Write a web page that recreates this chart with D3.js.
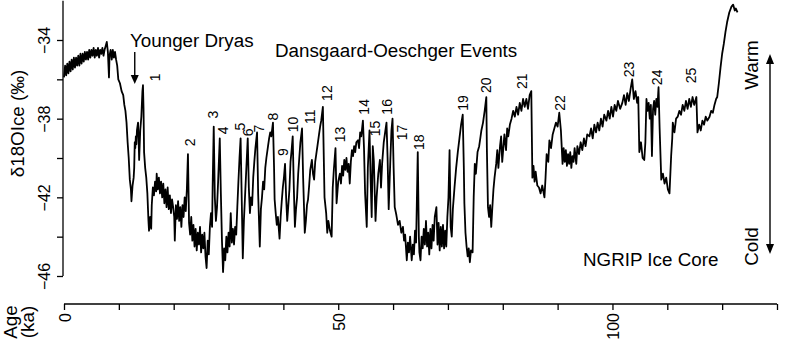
<!DOCTYPE html>
<html lang="en">
<head>
<meta charset="UTF-8">
<title>NGRIP ice core</title>
<style>
  body { margin: 0; background: #fff; }
  svg text { font-family: "Liberation Sans", Arial, sans-serif; fill: #000; }
</style>
<script src="https://d3js.org/d3.v7.min.js"></script>
</head>
<body>
<svg id="chart" width="785" height="347"></svg>
<script>
// age (ka) and d18O (permil)
const ageKa = [
  0.0,0.2,0.4,0.6,0.8,1.0,1.2,1.4,1.6,1.8,2.0,2.2,2.4,2.6,2.8,3.0,3.2,3.4,3.6,3.8,
  4.0,4.2,4.4,4.6,4.8,5.0,5.2,5.4,5.6,5.8,6.0,6.2,6.4,6.6,6.8,7.0,7.2,7.4,7.6,7.8,
  8.0,8.2,8.3,8.5,8.7,8.9,9.1,9.3,9.5,9.7,9.9,10.2,10.5,10.8,11.0,11.2,11.4,11.6,11.8,12.0,
  12.2,12.3,12.5,12.7,12.8,12.9,13.0,13.1,13.2,13.3,13.5,13.6,13.7,13.9,14.1,14.3,14.4,14.5,14.6,14.8,
  15.0,15.2,15.4,15.5,15.7,15.9,16.0,16.2,16.4,16.6,16.8,16.9,17.1,17.3,17.5,17.7,17.9,18.1,18.3,18.5,
  18.7,18.9,19.1,19.3,19.5,19.7,19.9,20.1,20.2,20.4,20.6,20.8,21.0,21.2,21.4,21.6,21.8,22.0,22.2,22.4,
  22.6,22.8,23.0,23.2,23.4,23.6,23.8,24.0,24.2,24.4,24.6,24.8,25.0,25.2,25.4,25.6,25.8,26.0,26.2,26.4,
  26.6,26.8,27.0,27.1,27.3,27.5,27.7,27.9,28.1,28.4,28.6,28.8,29.0,29.2,29.4,29.6,29.8,30.0,30.2,30.4,
  30.6,30.8,31.0,31.2,31.4,31.6,31.8,32.0,32.2,32.4,32.6,32.8,33.0,33.2,33.5,33.7,33.9,34.1,34.3,34.5,
  34.7,34.9,35.2,35.4,35.7,35.9,36.1,36.3,36.5,36.7,36.9,37.2,37.4,37.6,37.8,38.1,38.3,38.4,38.6,38.8,
  39.0,39.3,39.5,39.7,39.9,40.1,40.3,40.5,40.7,40.9,41.1,41.3,41.5,41.7,41.9,42.1,42.3,42.5,42.7,42.9,
  43.1,43.4,43.6,43.9,44.1,44.3,44.5,44.7,44.9,45.2,45.4,45.6,45.8,46.0,46.3,46.5,46.7,46.9,47.2,47.4,
  47.5,47.8,48.0,48.2,48.5,48.8,49.0,49.2,49.5,49.7,50.0,50.3,50.5,50.7,50.9,51.1,51.3,51.5,51.7,51.9,
  52.1,52.3,52.5,52.7,52.9,53.1,53.3,53.6,53.8,54.0,54.2,54.5,54.7,54.9,55.2,55.4,55.7,55.9,56.1,56.3,
  56.5,56.8,57.0,57.3,57.6,57.8,58.0,58.3,58.6,58.8,59.0,59.2,59.5,59.7,59.9,60.1,60.3,60.6,60.9,61.2,
  61.5,61.8,62.0,62.2,62.5,62.7,62.9,63.1,63.4,63.6,63.8,64.0,64.2,64.5,64.7,64.8,65.0,65.2,65.4,65.6,
  65.8,66.0,66.2,66.4,66.6,66.8,67.0,67.2,67.4,67.6,67.9,68.1,68.3,68.5,68.7,68.9,69.1,69.3,69.5,69.7,
  69.9,70.1,70.3,70.5,70.7,70.9,71.2,71.5,71.8,72.1,72.4,72.7,72.9,73.0,73.2,73.4,73.6,73.8,74.0,74.2,
  74.5,74.7,74.9,75.1,75.4,75.7,75.9,76.1,76.4,76.7,77.0,77.1,77.3,77.5,77.7,77.9,78.1,78.3,78.5,78.8,
  79.0,79.2,79.5,79.7,79.9,80.1,80.3,80.6,80.8,81.0,81.3,81.6,81.9,82.2,82.5,82.8,83.1,83.4,83.7,84.0,
  84.3,84.6,84.9,85.2,85.4,85.6,85.8,86.0,86.3,86.6,86.9,87.2,87.6,87.8,88.0,88.3,88.5,88.8,89.1,89.4,
  89.7,90.0,90.3,90.6,90.9,91.1,91.3,91.5,91.7,91.9,92.1,92.3,92.5,92.7,92.9,93.1,93.4,93.6,93.9,94.2,
  94.5,94.8,95.1,95.4,95.8,96.1,96.4,96.7,97.0,97.3,97.6,97.9,98.2,98.5,98.9,99.2,99.5,99.8,100.1,100.4,
  100.7,101.0,101.4,101.8,102.1,102.4,102.7,103.0,103.3,103.6,103.9,104.2,104.5,104.7,104.9,105.2,105.5,105.8,106.0,106.2,
  106.4,106.6,106.8,107.0,107.2,107.4,107.6,107.8,108.0,108.2,108.4,108.6,108.9,109.2,109.5,109.8,110.1,110.4,110.7,110.9,
  111.0,111.3,111.6,111.9,112.2,112.5,112.8,113.1,113.4,113.7,114.0,114.3,114.6,114.9,115.3,115.5,115.8,116.1,116.4,116.7,
  117.0,117.3,117.7,118.0,118.3,118.6,118.9,119.1,119.4,119.7,120.0,120.3,120.6,120.9,121.3,121.7,122.0,122.3,122.5,122.8
];
const d18O = [
  -35.9,-35.3,-35.8,-35.2,-35.7,-35.1,-35.6,-35.0,-35.5,-34.9,-35.4,-34.9,-35.3,-34.8,-35.3,-34.7,-35.2,-34.7,-35.1,-34.6,
  -35.0,-34.6,-35.0,-34.5,-34.9,-34.5,-34.8,-34.4,-34.9,-34.5,-34.8,-34.4,-34.9,-34.5,-34.7,-34.4,-34.8,-34.5,-34.3,-34.1,
  -34.6,-35.9,-34.8,-34.5,-35.0,-34.5,-34.9,-34.6,-35.0,-35.3,-36.0,-36.2,-36.6,-36.8,-37.3,-37.6,-38.2,-39.2,-40.0,-41.1,
  -41.6,-42.2,-41.4,-41.0,-40.5,-39.2,-39.5,-38.9,-39.3,-38.6,-38.2,-39.0,-40.1,-38.6,-37.9,-36.6,-36.3,-37.5,-39.7,-40.5,
  -41.0,-41.8,-43.2,-43.7,-43.0,-43.6,-42.4,-41.5,-41.9,-41.2,-41.7,-40.8,-41.6,-41.0,-41.8,-41.2,-42.0,-41.3,-42.3,-41.6,
  -42.5,-41.5,-42.6,-41.9,-42.8,-42.1,-42.5,-43.0,-44.2,-42.4,-43.1,-42.2,-43.2,-42.5,-43.5,-42.4,-43.0,-42.0,-42.7,-41.6,
  -39.8,-43.3,-43.9,-43.0,-44.2,-43.4,-44.5,-43.6,-44.7,-43.8,-44.4,-43.5,-44.8,-43.9,-44.6,-43.8,-45.0,-45.6,-44.2,-44.9,
  -43.5,-42.8,-43.5,-41.5,-38.4,-42.0,-43.2,-42.5,-41.2,-39.0,-41.8,-44.2,-45.8,-44.6,-45.2,-44.0,-44.8,-43.8,-44.5,-42.8,
  -44.3,-43.6,-44.4,-43.5,-43.9,-42.5,-41.2,-40.0,-39.0,-42.0,-45.1,-43.2,-42.0,-40.8,-39.0,-41.5,-42.8,-42.0,-42.4,-41.0,
  -40.2,-39.5,-38.7,-41.8,-44.5,-42.6,-42.0,-41.2,-41.6,-40.5,-40.0,-39.4,-39.0,-38.7,-38.9,-38.2,-40.5,-42.1,-42.8,-43.4,
  -43.0,-44.1,-43.0,-42.2,-41.5,-41.0,-40.3,-42.0,-43.2,-42.4,-41.6,-40.2,-39.6,-38.9,-41.5,-43.5,-42.6,-42.0,-40.8,-40.0,
  -39.2,-38.5,-41.0,-43.8,-43.2,-42.4,-42.1,-41.4,-40.6,-40.1,-40.8,-41.1,-40.2,-39.8,-39.2,-38.8,-38.4,-38.1,-37.4,-40.5,
  -42.0,-42.8,-43.8,-43.2,-43.7,-44.0,-41.5,-40.6,-39.5,-42.3,-41.2,-40.8,-41.3,-40.4,-40.9,-40.1,-40.6,-40.0,-40.7,-40.3,
  -41.3,-40.2,-39.6,-39.9,-39.4,-39.7,-39.2,-39.1,-39.5,-38.7,-38.9,-38.1,-39.5,-41.8,-43.5,-40.5,-38.6,-41.0,-43.0,-39.4,
  -40.2,-43.2,-42.0,-40.8,-40.1,-41.5,-40.3,-39.2,-38.6,-38.2,-40.0,-42.6,-40.1,-38.6,-38.0,-40.5,-42.5,-42.9,-43.4,-43.2,
  -43.8,-43.5,-44.2,-43.9,-45.2,-44.3,-44.8,-44.0,-45.2,-44.4,-44.9,-43.7,-44.3,-39.7,-44.0,-44.8,-45.2,-44.0,-44.6,-43.6,
  -44.4,-43.2,-44.5,-43.8,-44.9,-43.6,-44.6,-43.4,-44.2,-43.0,-42.5,-44.4,-43.3,-44.7,-43.5,-44.5,-43.4,-44.6,-43.7,-44.5,
  -43.0,-42.0,-39.6,-43.5,-44.0,-42.6,-41.5,-40.5,-39.7,-39.0,-38.3,-37.8,-40.5,-42.3,-43.8,-44.5,-45.0,-44.6,-45.3,-44.7,
  -44.8,-42.0,-40.3,-40.8,-39.7,-39.4,-39.0,-38.6,-38.2,-37.6,-36.9,-39.5,-42.5,-43.0,-42.4,-43.5,-42.5,-41.6,-41.0,-40.3,
  -39.6,-40.5,-39.4,-38.9,-40.2,-39.5,-38.8,-39.6,-38.5,-38.9,-38.3,-38.0,-37.6,-37.9,-37.4,-37.8,-37.2,-37.6,-37.0,-37.4,
  -37.0,-37.5,-36.8,-36.6,-41.0,-40.4,-41.2,-40.7,-41.4,-41.5,-41.8,-41.4,-42.0,-41.0,-39.8,-40.2,-39.1,-39.5,-38.8,-38.5,
  -38.2,-38.4,-37.7,-38.6,-40.3,-39.5,-40.2,-39.6,-40.4,-39.8,-40.3,-39.7,-40.5,-39.9,-40.2,-39.5,-40.3,-39.4,-39.8,-39.2,
  -39.6,-39.0,-39.4,-38.8,-38.9,-38.5,-39.0,-38.3,-38.7,-38.2,-38.6,-38.0,-38.4,-37.8,-38.1,-37.6,-38.0,-37.4,-37.9,-37.3,
  -37.6,-37.1,-37.5,-37.2,-36.8,-37.3,-36.7,-37.1,-36.5,-36.0,-37.0,-36.6,-37.2,-36.9,-39.7,-39.2,-40.0,-40.1,-39.2,-37.0,
  -37.6,-37.2,-38.0,-37.3,-39.9,-37.5,-37.1,-37.8,-37.0,-37.4,-36.4,-38.5,-41.1,-40.8,-41.3,-41.0,-41.6,-41.8,-39.9,-39.0,
  -38.2,-38.7,-38.0,-37.9,-37.6,-37.8,-37.3,-37.6,-37.1,-37.5,-37.0,-37.4,-36.9,-37.3,-36.9,-38.7,-38.3,-38.6,-38.1,-38.3,
  -37.9,-38.1,-37.9,-37.6,-37.7,-37.3,-37.0,-36.9,-36.2,-35.4,-34.7,-34.2,-33.6,-33.1,-32.6,-32.3,-32.2,-32.5,-32.4,-32.6
];

// Dansgaard-Oeschger event numbers and where their labels sit (age, permil)
const eventNum = ["1","2","3","4","5","6","7","8","9","10","11","12","13",
  "14","15","16","17","18","19","20","21","22","23","24","25"];
const eventAge = [16.6,23.0,27.2,29.0,32.1,33.6,35.6,38.1,39.9,41.8,44.9,48.0,50.3,
  54.7,56.7,58.9,61.6,64.7,72.7,76.9,83.5,90.4,103.0,108.1,114.3];
const eventVal = [-35.9,-39.2,-37.8,-38.6,-38.4,-38.7,-38.5,-37.9,-39.7,-38.3,-37.9,-36.7,-38.8,
  -37.4,-38.5,-37.4,-38.7,-39.2,-37.2,-36.3,-36.1,-37.2,-35.5,-35.9,-35.8];

const xTicks = d3.range(0, 131, 10);
const xLabels = [0, 50, 100];
const yTicks = [-34, -36, -38, -40, -42, -44, -46];
const yLabels = [-34, -38, -42, -46];

const svg = d3.select("#chart");
const x = d3.scaleLinear().domain([0, 130]).range([64, 777]);
const y = d3.scaleLinear().domain([-34, -46]).range([40, 276]);

// y axis
const yAxis = svg.append("g").attr("transform", "translate(63,0)")
  .call(d3.axisLeft(y).tickValues(yTicks).tickSize(6)
    .tickFormat(d => yLabels.includes(d) ? d3.format("d")(d) : ""));
yAxis.select(".domain").remove();
yAxis.append("line").attr("x1", 0).attr("x2", 0)
  .attr("y1", y(-32)).attr("y2", y(-46)).attr("stroke", "#000");
yAxis.selectAll("line").attr("stroke", "#000").attr("stroke-width", 1.3);
yAxis.selectAll(".tick text")
  .attr("x", null).attr("dy", null)
  .attr("transform", "translate(-13,0) rotate(-90)")
  .attr("text-anchor", "middle")
  .style("font-size", "16px")
  .style("font-family", "'Liberation Sans', Arial, sans-serif");

// x axis
const xAxis = svg.append("g").attr("transform", "translate(0,304)")
  .call(d3.axisBottom(x).tickValues(xTicks).tickSize(6)
    .tickFormat(d => xLabels.includes(d) ? d : ""));
xAxis.select(".domain").attr("d", `M${x(0)},0H${x(130)}`).attr("stroke-width", 1.3);
xAxis.selectAll("line").attr("stroke", "#000").attr("stroke-width", 1.3);
xAxis.selectAll(".tick text")
  .attr("y", null).attr("dy", null)
  .attr("transform", "translate(6,9) rotate(-90)")
  .attr("text-anchor", "end")
  .style("font-size", "16px")
  .style("font-family", "'Liberation Sans', Arial, sans-serif");

// record
const line = d3.line().x((d, i) => x(ageKa[i])).y(d => y(d));
svg.append("path").datum(d18O)
  .attr("d", line)
  .attr("fill", "none")
  .attr("stroke", "#000")
  .attr("stroke-width", 1.8)
  .attr("stroke-linejoin", "round");

// event numbers
svg.append("g").selectAll("text").data(eventNum).join("text")
  .attr("transform", (d, i) => `translate(${x(eventAge[i])},${y(eventVal[i])}) rotate(-90)`)
  .attr("text-anchor", "middle")
  .attr("dominant-baseline", "central")
  .style("font-size", "14px")
  .text(d => d);

// titles and notes
const big = "18.8px";
svg.append("text").attr("x", 130).attr("y", 47).style("font-size", big).text("Younger Dryas");
svg.append("text").attr("x", 275).attr("y", 56.5).style("font-size", big).text("Dansgaard-Oeschger Events");
svg.append("text").attr("x", 583).attr("y", 266).style("font-size", big).text("NGRIP Ice Core");

// Younger Dryas arrow
const ydAge = 12.9;
svg.append("line").attr("x1", x(ydAge)).attr("x2", x(ydAge))
  .attr("y1", 52).attr("y2", 78).attr("stroke", "#000").attr("stroke-width", 1.4);
svg.append("path")
  .attr("d", `M${x(ydAge) - 4},75L${x(ydAge) + 4},75L${x(ydAge)},84Z`)
  .attr("fill", "#000");

// Warm / Cold arrow
const ax = 770;
svg.append("line").attr("x1", ax).attr("x2", ax).attr("y1", 60).attr("y2", 248)
  .attr("stroke", "#000").attr("stroke-width", 1.4);
svg.append("path").attr("d", `M${ax - 4},64L${ax + 4},64L${ax},54Z`).attr("fill", "#000");
svg.append("path").attr("d", `M${ax - 4},244L${ax + 4},244L${ax},254Z`).attr("fill", "#000");
svg.append("text").attr("transform", "translate(758,65) rotate(-90)")
  .attr("text-anchor", "middle").style("font-size", big).text("Warm");
svg.append("text").attr("transform", "translate(758,246.5) rotate(-90)")
  .attr("text-anchor", "middle").style("font-size", big).text("Cold");

// axis titles
svg.append("text").attr("transform", "translate(24,123.5) rotate(-90)")
  .attr("text-anchor", "middle").style("font-size", big).text("δ18OIce (‰)");
svg.append("text").attr("transform", "translate(17,322) rotate(-90)")
  .attr("text-anchor", "middle").style("font-size", big).text("Age");
svg.append("text").attr("transform", "translate(34,322) rotate(-90)")
  .attr("text-anchor", "middle").style("font-size", big).text("(ka)");
</script>
</body>
</html>
